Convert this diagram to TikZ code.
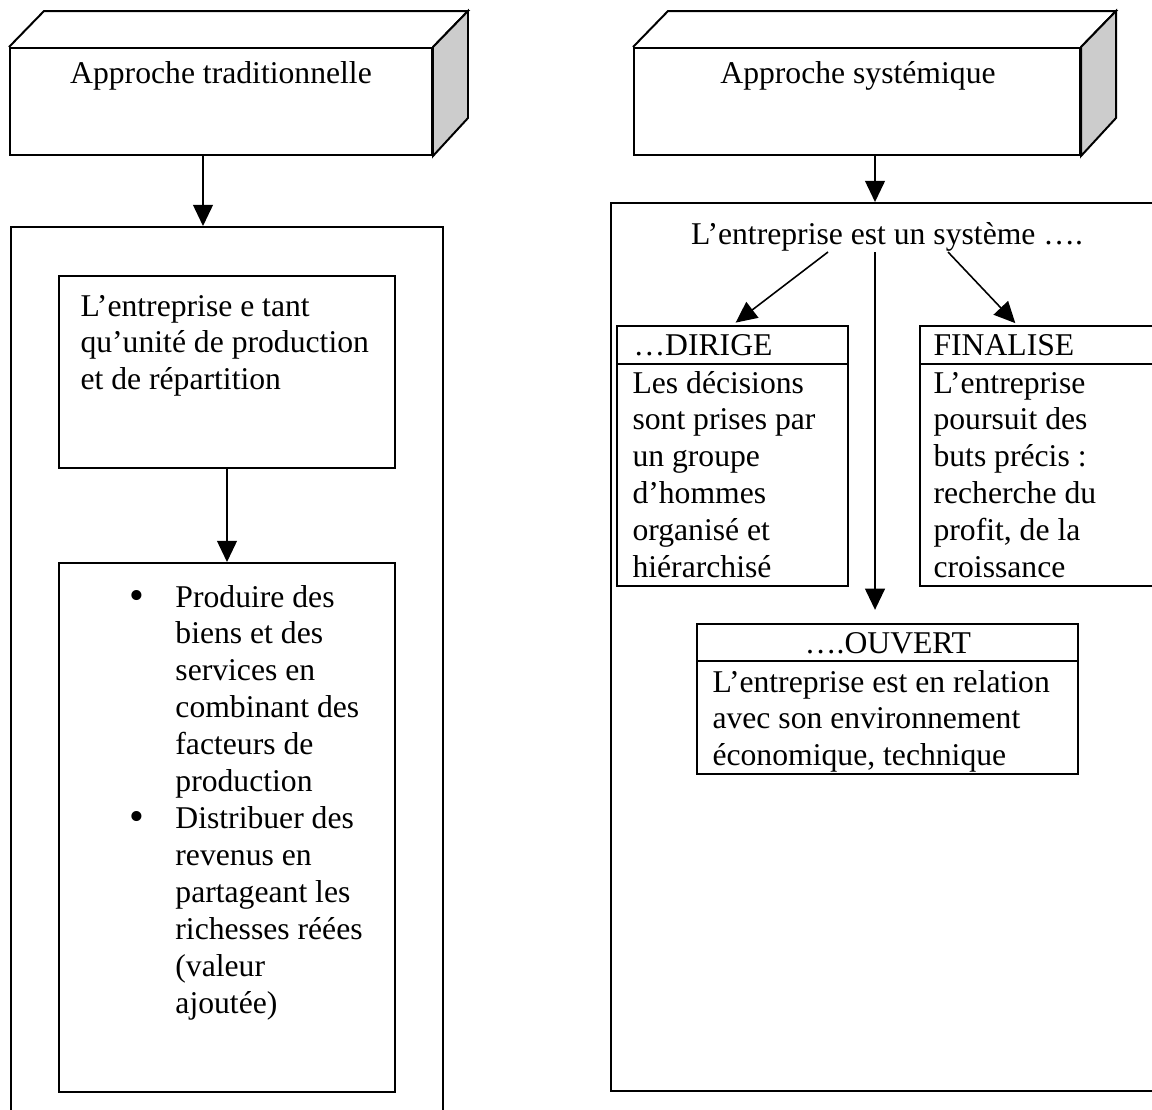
\documentclass[tikz,border=0pt]{standalone}
\usepackage{fontspec}
\setmainfont{Liberation Serif}
\usepackage{tikz}
\usetikzlibrary{shapes,arrows.meta,positioning,calc,fit}
\definecolor{sidegray}{RGB}{204,204,204}
\newdimen\pxu \pxu=0.379pt
\newdimen\bulind \bulind=17.4pt
\newcommand{\bigdot}{\makebox[\bulind][l]{\raisebox{-0.8pt}{\fontsize{16}{14}\selectfont\textbullet}}}

\begin{document}
\begin{tikzpicture}[x=0.379pt, y=-0.379pt,
    box/.style={rectangle, draw, line width=0.75pt, inner sep=0pt},
    txt/.style={inner sep=0pt, font=\fontsize{12}{14}\selectfont},
    arr/.style={-{Triangle[length=8pt,width=7.5pt]}, line width=0.6pt}]
    \useasboundingbox (0,0) rectangle (1152,1109);
    \clip (0,0) rectangle (1152,1109);

    % the two blocks on top
    \node[box, fit={(10,48) (432,155)}] (tradfront) {};
    \node[box, fit={(634,48) (1080,155)}] (sysfront) {};
    \foreach \c in {tradfront,sysfront} {
        \draw[line width=0.75pt] (\c.north west) -- ++(35,-36) -- ($(\c.north east)+(35,-36)$) -- (\c.north east);
        \filldraw[fill=sidegray, line width=0.75pt] (\c.north east) -- ++(35,-36) -- ++(0,107) -- (\c.south east) -- cycle;
    }
    \node[txt, anchor=base] (tradlabel) at (221,83) {Approche traditionnelle};
    \node[txt, anchor=base] (syslabel) at (858,83) {Approche systémique};

    % left column
    \node[box, fit={(11,227) (443,1125)}] (tradbox) {};
    \node[box, fit={(59,276) (395,468)}] (unitbox) {};
    \node[box, fit={(59,563) (395,1092)}] (taskbox) {};
    \node[txt, anchor=base west] (unittext) at (80,316) {\parbox[t]{320\pxu}{\fontsize{12}{14}\selectfont\raggedright
        L’entreprise e tant\\qu’unité de production\\et de répartition}};
    \node[txt, anchor=base west] (tasktext) at (129,607) {\parbox[t]{260\pxu}{\fontsize{12}{14}\selectfont
        \hangindent=\bulind \hangafter=1 \noindent\bigdot Produire des\newline biens et des\newline services en\newline combinant des\newline facteurs de\newline production\par
        \hangindent=\bulind \hangafter=1 \noindent\bigdot Distribuer des\newline revenus en\newline partageant les\newline richesses réées\newline (valeur\newline ajoutée)}};
    \coordinate (tradout) at (203,155);
    \draw[arr] (tradout) -- (tradout |- tradbox.north);
    \draw[arr] (unitbox.south) -- (taskbox.north);

    % right column
    \node[box, fit={(611,203) (1170,1091)}] (sysbox) {};
    \coordinate (sysout) at (875,155);
    \draw[arr] (sysout) -- (sysout |- sysbox.north);
    \node[txt, anchor=base] (systext) at (887,244) {L’entreprise est un système ….};

    \node[box, fit={(617,326) (848,364)}] (dirigehead) {};
    \node[box, fit={(617,364) (848,586)}] (dirigebody) {};
    \node[txt, anchor=base west] (dirigetitle) at (633,355) {…DIRIGE};
    \node[txt, anchor=base west] (dirigetext) at (632,393) {\parbox[t]{200\pxu}{\fontsize{12}{14}\selectfont\raggedright
        Les décisions\\sont prises par\\un groupe\\d’hommes\\organisé et\\hiérarchisé}};

    \node[box, fit={(920,326) (1170,364)}] (finalhead) {};
    \node[box, fit={(920,364) (1170,586)}] (finalbody) {};
    \node[txt, anchor=base west] (finaltitle) at (933,355) {FINALISE};
    \node[txt, anchor=base west] (finaltext) at (933,393) {\parbox[t]{200\pxu}{\fontsize{12}{14}\selectfont\raggedright
        L’entreprise\\poursuit des\\buts précis :\\recherche du\\profit, de la\\croissance}};

    \node[box, fit={(697,624) (1078,661)}] (ouverthead) {};
    \node[box, fit={(697,661) (1078,774)}] (ouvertbody) {};
    \node[txt, anchor=base] (ouverttitle) at (888,653) {….OUVERT};
    \node[txt, anchor=base west] (ouverttext) at (712,692) {\parbox[t]{360\pxu}{\fontsize{12}{14}\selectfont\raggedright
        L’entreprise est en relation\\avec son environnement\\économique, technique}};

    \coordinate (sysleft) at (828,252);
    \coordinate (sysmid) at (875,252);
    \coordinate (sysright) at (948,252);
    \coordinate (finalin) at (1018,326);
    \draw[arr, shorten >=1.5pt] (sysleft) -- (dirigehead.north);
    \draw[arr, shorten >=5pt] (sysmid) -- (sysmid |- ouverthead.north);
    \draw[arr, shorten >=1.5pt] (sysright) -- (finalin);
\end{tikzpicture}
\end{document}
